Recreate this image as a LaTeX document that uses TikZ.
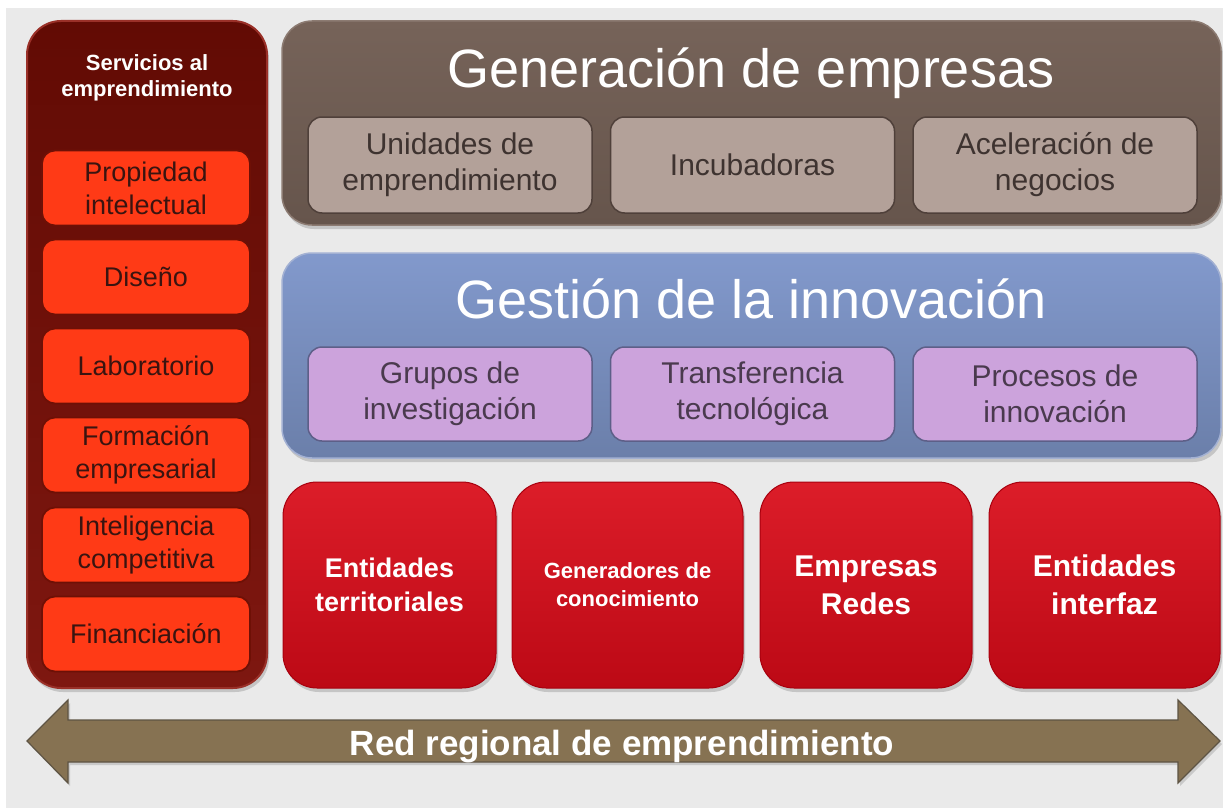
\documentclass[tikz,border=0pt]{standalone}
\usepackage{fontspec}
\setmainfont{Liberation Sans}
\usetikzlibrary{shadows}
\definecolor{bgc}{HTML}{EAEAEA}
\definecolor{colTop}{HTML}{620B04}
\definecolor{colBot}{HTML}{7E1710}
\definecolor{colEdge}{HTML}{9A3028}
\definecolor{svcFill}{HTML}{FF3A16}
\definecolor{svcEdge}{HTML}{6E1006}
\definecolor{svcText}{HTML}{3A1410}
\definecolor{genTop}{HTML}{766359}
\definecolor{genBot}{HTML}{66554C}
\definecolor{genEdge}{HTML}{8C7B72}
\definecolor{genSub}{HTML}{B3A199}
\definecolor{genSubEdge}{HTML}{4F403A}
\definecolor{genText}{HTML}{3E3330}
\definecolor{gesTop}{HTML}{8299CC}
\definecolor{gesBot}{HTML}{6B7FAA}
\definecolor{gesEdge}{HTML}{A3B1D3}
\definecolor{gesSub}{HTML}{CCA3DC}
\definecolor{gesSubEdge}{HTML}{5D5F88}
\definecolor{gesText}{HTML}{4A3A4E}
\definecolor{redTop}{HTML}{DC1D29}
\definecolor{redBot}{HTML}{BC0915}
\definecolor{redEdge}{HTML}{A8000E}
\definecolor{arrFill}{HTML}{867252}
\definecolor{arrEdge}{HTML}{5E5444}
\tikzset{
  shd/.style={drop shadow={opacity=0.35, shadow xshift=2pt, shadow yshift=-4pt}},
  base/.style={rectangle, inner sep=0pt, outer sep=0pt, align=center},
  column/.style={base, shd, rounded corners=34pt, top color=colTop, bottom color=colBot,
    draw=colEdge, line width=2pt, minimum width=240pt, minimum height=667pt},
  coltitle/.style={base, text=white, font=\bfseries\fontsize{22}{26}\selectfont},
  svc/.style={base, rounded corners=13pt, fill=svcFill, draw=svcEdge, line width=1.8pt,
    minimum width=208pt, minimum height=75pt, text=svcText, font=\fontsize{27}{33}\selectfont},
  genbox/.style={base, shd, rounded corners=30pt, top color=genTop, bottom color=genBot,
    draw=genEdge, line width=1.5pt, minimum width=939pt, minimum height=204pt},
  gesbox/.style={base, shd, rounded corners=30pt, top color=gesTop, bottom color=gesBot,
    draw=gesEdge, line width=1.5pt, minimum width=939pt, minimum height=205pt},
  bigtitle/.style={base, anchor=base, text=white, font=\fontsize{54}{60}\selectfont},
  gensub/.style={base, rounded corners=14pt, fill=genSub, draw=genSubEdge, line width=1.5pt,
    minimum width=284pt, minimum height=96pt, text=genText, font=\fontsize{30}{36}\selectfont},
  gessub/.style={base, rounded corners=14pt, fill=gesSub, draw=gesSubEdge, line width=1.5pt,
    minimum width=284pt, minimum height=94pt, text=gesText, font=\fontsize{30}{36}\selectfont},
  redbox/.style={base, shd, rounded corners=34pt, top color=redTop, bottom color=redBot,
    draw=redEdge, line width=1pt, minimum height=206pt, text=white,
    font=\bfseries\fontsize{27}{34}\selectfont},
  arrowband/.style={fill=arrFill, draw=arrEdge, line width=1.2pt, drop shadow={opacity=0.3, shadow xshift=2pt, shadow yshift=-3pt}},
  arrtext/.style={base, anchor=base, text=white, font=\bfseries\fontsize{35}{40}\selectfont}
}
\begin{document}
\begin{tikzpicture}[x=1pt,y=-1pt]
\useasboundingbox (0,0) rectangle (1223,808);
\fill[white] (0,0) rectangle (1223,808);
\fill[bgc] (6,8) rectangle (1223,808);

% left column
\node[column] (col) at (147,354.5) {};
\node[coltitle] (coltitle) at (147,78) {Servicios al\\emprendimiento};
\node[svc] (s1) at (146,188) {Propiedad\\intelectual};
\node[svc] (s2) at (146,277) {Diseño};
\node[svc] (s3) at (146,366) {Laboratorio};
\node[svc] (s4) at (146,455) {Formación\\empresarial};
\node[svc] (s5) at (146,545) {Inteligencia\\competitiva};
\node[svc] (s6) at (146,634) {Financiación};

% Generacion de empresas
\node[genbox] (gen) at (751.5,123) {};
\node[bigtitle] (gentitle) at (751,87) {Generación de empresas};
\node[gensub] (g1) at (450,165) {Unidades de\\emprendimiento};
\node[gensub] (g2) at (752.5,165) {Incubadoras};
\node[gensub] (g3) at (1055,165) {Aceleración de\\negocios};

% Gestion de la innovacion
\node[gesbox] (ges) at (751.5,355.5) {};
\node[bigtitle] (gestitle) at (751,318) {Gestión de la innovación};
\node[gessub] (i1) at (450,394) {Grupos de\\investigación};
\node[gessub] (i2) at (752.5,394) {Transferencia\\tecnológica};
\node[gessub] (i3) at (1055,394) {Procesos de\\innovación};

% red boxes
\node[redbox, minimum width=213pt] (r1) at (389.5,585) {Entidades\\territoriales};
\node[redbox, minimum width=231pt, font=\bfseries\fontsize{22}{28}\selectfont] (r2) at (627.5,585) {Generadores de\\conocimiento};
\node[redbox, minimum width=212pt, font=\bfseries\fontsize{30}{38}\selectfont] (r3) at (866,585) {Empresas\\Redes};
\node[redbox, minimum width=231pt, font=\bfseries\fontsize{30}{38}\selectfont] (r4) at (1104.5,585) {Entidades\\interfaz};

% double arrow
\coordinate (tipL) at (27,741);
\coordinate (tipR) at (1220,741);
\draw[arrowband] (tipL) -- (68,700) -- (68,720) -- (1178,720) -- (1178,700) -- (tipR)
  -- (1178,783) -- (1178,762) -- (68,762) -- (68,783) -- cycle;
\node[arrtext] (red) at (622,755) {Red regional de emprendimiento};
\end{tikzpicture}
\end{document}
